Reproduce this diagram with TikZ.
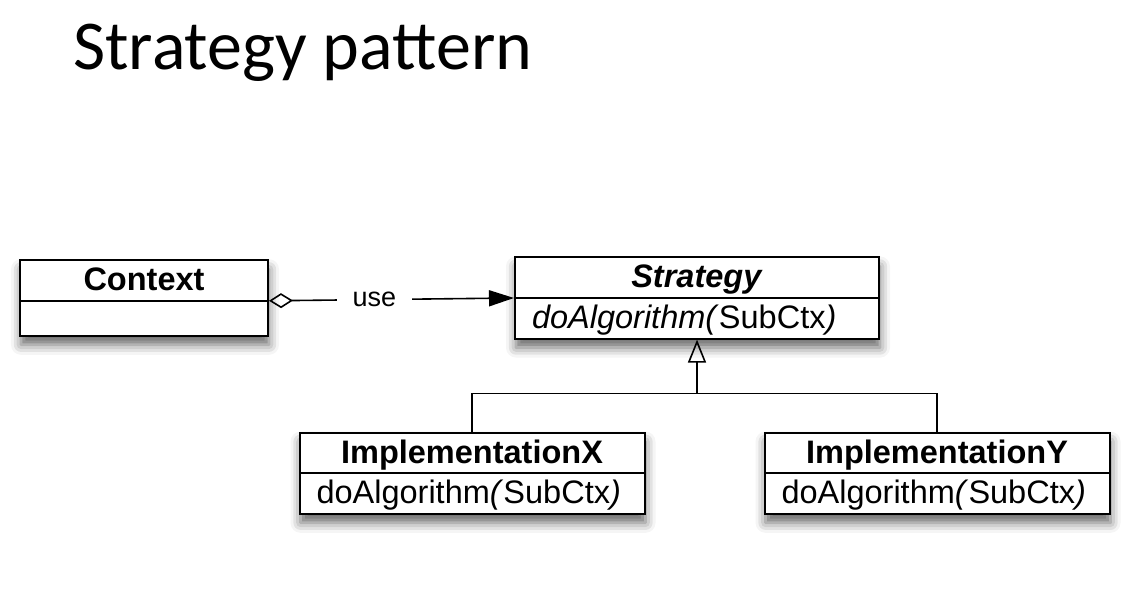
\documentclass[tikz,border=0pt]{standalone}
\usepackage{fontspec}
\setmainfont{Liberation Sans}
\newfontfamily\titlefont{Carlito}
\usetikzlibrary{arrows.meta, positioning, shapes.multipart, shadows.blur}
\newcommand{\umlstrut}{\rule[-4.6pt]{0pt}{19.3pt}}
\newcommand{\umlop}[1]{\makebox[\linewidth][l]{\umlstrut#1}}

\begin{document}
\begin{tikzpicture}[
		node distance=122.5pt,
		umlclass/.style={
			draw,
			line width=1pt,
			fill=white,
			rectangle split,
			rectangle split parts=2,
			inner xsep=8.5pt,
			inner ysep=0pt,
			align=center,
			font=\fontsize{16.25pt}{19pt}\selectfont,
			blur shadow={shadow xshift=0.5pt, shadow yshift=-4.5pt, shadow blur radius=5pt, shadow opacity=60}
		},
		assoc/.style={{Diamond[open, length=12pt, width=7.5pt]}-{Triangle[length=12.5pt, width=8pt]}, line width=0.8pt},
		inherit/.style={-{Triangle[open, length=11.5pt, width=9pt]}, line width=0.8pt}
		]
		
		\useasboundingbox (-72pt,-145.5pt) rectangle (497pt,149pt);
		
		\node[anchor=base west, inner sep=0pt, font=\titlefont\fontsize{35pt}{40pt}\selectfont] (title) at (-35.5pt,114pt) {Strategy pattern};
		
		\node[umlclass, text width=107pt] (ctx) at (0,0) {\umlstrut\textbf{Context}\nodepart{two}\rule{0pt}{16.5pt}};
		\node[umlclass, text width=165pt, right=of ctx] (strat) {\umlstrut\textbf{\textit{Strategy}}\nodepart{two}\umlop{\textit{doAlgorithm(}SubCtx\textit{)}}};
		\node[umlclass, text width=155.5pt, below=46pt of strat.south, xshift=-112.5pt] (implx) {\umlstrut\textbf{ImplementationX}\nodepart{two}\umlop{doAlgorithm\textit{(}SubCtx\textit{)}}};
		\node[umlclass, text width=155.5pt, below=46pt of strat.south, xshift=120pt] (imply) {\umlstrut\textbf{ImplementationY}\nodepart{two}\umlop{doAlgorithm\textit{(}SubCtx\textit{)}}};
		
		\draw[assoc] (ctx.text split east) -- node[pos=0.43, fill=white, inner xsep=8pt, font=\fontsize{13.5pt}{16pt}\selectfont] (use) {use} (strat.text split west);
		
		\coordinate[below=27pt of strat.south] (fork);
		\draw[inherit] (implx.north) |- (fork) -- (strat.south);
		\draw[line width=0.8pt] (imply.north) |- (fork);
		
	\end{tikzpicture}
\end{document}
